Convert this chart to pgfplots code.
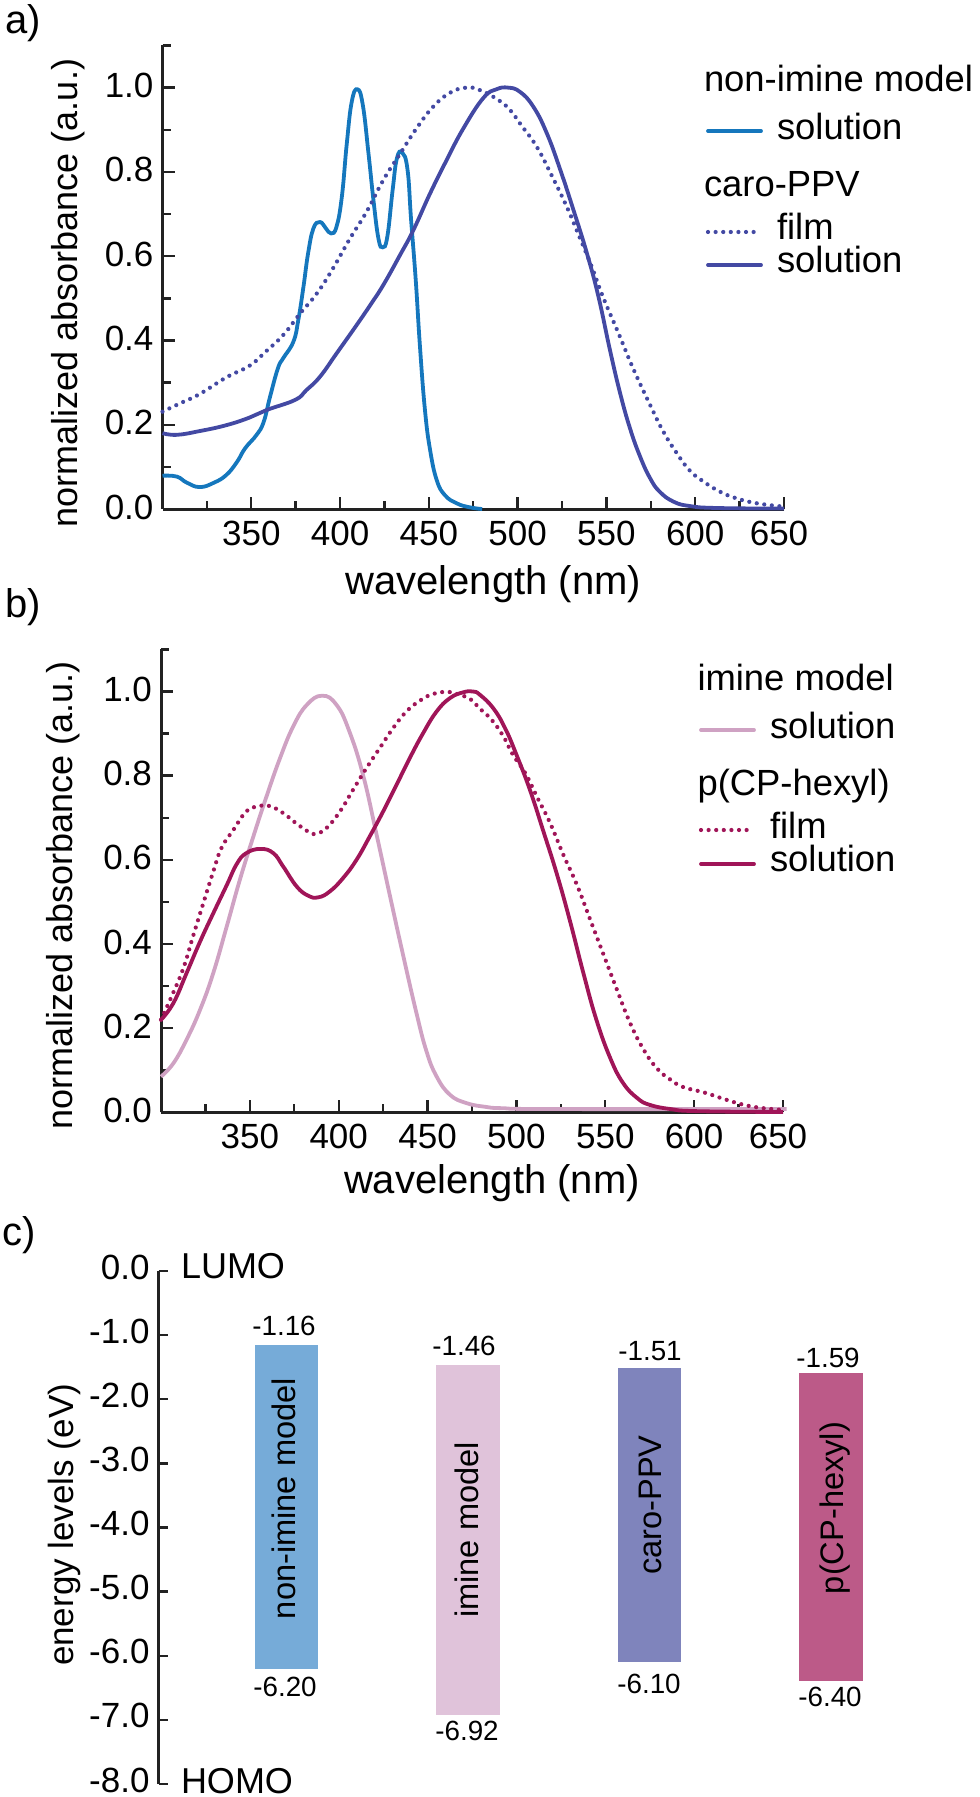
\documentclass[border=0pt]{standalone}
\usepackage{fontspec}
\setmainfont{Liberation Sans}
\usepackage{pgfplots}
\pgfplotsset{compat=1.18}
\usepackage{pgfplotstable}

% scale: 1 reference pixel = 0.5pt
\newcommand{\fs}[1]{\fontsize{#1}{#1}\selectfont}

\definecolor{axiscol}{HTML}{222222}
\definecolor{nonimine}{HTML}{1577BD}
\definecolor{caro}{HTML}{4349A3}
\definecolor{imine}{HTML}{CFA2C3}
\definecolor{hexyl}{HTML}{A01558}
\definecolor{barnon}{HTML}{76ABD8}
\definecolor{barimine}{HTML}{E0C3DA}
\definecolor{barcaro}{HTML}{7F84BC}
\definecolor{barhexyl}{HTML}{BC5A88}

\pgfplotstableread{
nm y
300 0.079
308 0.077
313.7 0.0625
321 0.052
329 0.0625
336 0.081
342 0.112
346.5 0.144
353 0.176
357 0.207
360.6 0.267
365 0.334
368 0.358
373.7 0.397
376.5 0.449
379.4 0.528
382 0.607
385 0.666
388.7 0.681
392 0.666
395 0.654
398 0.67
401 0.741
403.8 0.868
406.6 0.967
409.8 0.996
412.8 0.959
416 0.844
418.8 0.733
421.6 0.642
424 0.621
426.6 0.646
429.6 0.757
432 0.832
435 0.846
438 0.805
440 0.686
442.6 0.544
445 0.385
447.8 0.235
450.7 0.14
454.4 0.069
459 0.033
465.7 0.0135
473 0.004
480 0.0
}\nonimineSol

\pgfplotstableread{
nm y
300 0.231
310 0.251
321 0.273
336 0.3125
349 0.34
358 0.373
368 0.413
377.5 0.464
387 0.512
396 0.571
405.6 0.642
415 0.706
424.4 0.781
433.8 0.843
443 0.903
452.5 0.955
462 0.988
471.3 1.0
478.8 0.994
489 0.971
495.7 0.947
502 0.911
510.7 0.86
519 0.793
527.6 0.718
534 0.654
541.7 0.575
548 0.504
556.8 0.417
565 0.334
574.6 0.247
582 0.184
589.7 0.132
597 0.091
604.7 0.065
614 0.041
623.5 0.025
634.8 0.0135
650 0.0055
}\caroFilm

\pgfplotstableread{
nm y
300 0.18
308 0.176
321 0.185
336 0.199
349 0.217
358.7 0.235
374.7 0.259
381 0.282
388.7 0.314
398 0.369
409.4 0.437
417 0.484
424.4 0.532
433.8 0.603
441.3 0.662
450.7 0.749
460 0.828
469.4 0.903
480.6 0.975
488 0.996
494.7 1.0
501.3 0.99
508.8 0.955
516.4 0.892
524 0.805
531.4 0.71
539 0.607
545.5 0.504
552 0.377
557.7 0.275
563.3 0.191
569 0.124
574.6 0.073
580 0.041
587.8 0.0174
597 0.007
612 0.0024
650 0.001
}\caroSol

\pgfplotstableread{
nm y
300 0.085
307 0.117
314.4 0.173
322 0.244
329.4 0.331
337 0.442
344.4 0.553
352 0.656
359.4 0.751
367 0.842
374.4 0.917
382 0.968
390.7 0.99
398.8 0.968
406 0.905
413.8 0.80
421.3 0.66
428.8 0.515
436 0.378
443.8 0.235
449.4 0.145
455 0.086
462.6 0.042
472 0.022
483 0.013
492 0.01
520 0.008
652 0.008
}\imineSol

\pgfplotstableread{
nm y
300 0.22
306 0.276
312.6 0.343
318 0.418
323.8 0.497
329.4 0.572
334 0.628
340.7 0.671
348 0.715
354.7 0.727
361 0.728
368.8 0.711
376 0.687
383.8 0.665
387.5 0.663
393 0.675
400.7 0.715
408 0.766
415.6 0.818
423 0.865
430.6 0.913
438 0.952
445.6 0.978
453 0.994
461.6 0.999
468 0.992
474 0.982
479.5 0.959
486 0.933
492.7 0.893
498 0.85
505 0.806
511.4 0.751
519 0.687
526.4 0.612
534 0.541
541.6 0.457
549 0.375
556.6 0.291
564 0.212
571.6 0.149
579 0.105
586.6 0.078
594 0.06
605.5 0.0475
616.7 0.032
628 0.018
639 0.01
650 0.006
}\hexylFilm

\pgfplotstableread{
nm y
300 0.22
307 0.26
314.4 0.331
322 0.406
329.4 0.473
337 0.54
342.6 0.59
348 0.616
356 0.626
363.2 0.616
368.8 0.584
376.3 0.537
382.8 0.515
388.5 0.511
395 0.525
402.5 0.557
410 0.6
417.5 0.656
425 0.715
432.5 0.778
440 0.842
447.5 0.901
455 0.952
462.5 0.984
470 0.998
475.6 1.0
479.5 0.992
487 0.96
493.6 0.913
500 0.85
507.7 0.765
515 0.67
522.7 0.567
530 0.457
537.8 0.329
545 0.22
552.8 0.129
560 0.07
568 0.034
575 0.018
586.7 0.008
601.5 0.003
650 0.001
}\hexylSol

\pgfplotsset{
  spectrum/.style={
    scale only axis,
    anchor=south west,
    xmin=300, xmax=650, ymin=0, ymax=1.1,
    clip=false,
    axis x line=bottom, axis y line=left,
    axis line style={-, line width=1.5pt, color=axiscol},
    tick align=inside,
    major tick length=6pt, minor tick length=4pt,
    every tick/.style={line width=1.2pt, color=axiscol},
    xtick={350,400,450,500,550,600,650},
    xticklabels={350,400,450,500,550,600,{650\kern5pt}},
    minor xtick={325,375,425,475,525,575,625},
    ytick={0,0.2,0.4,0.6,0.8,1.0},
    yticklabels={0.0,0.2,0.4,0.6,0.8,1.0},
    minor ytick={0.1,0.3,0.5,0.7,0.9,1.1},
    tick label style={font=\fs{17.5}},
    xticklabel style={anchor=base, yshift=-18pt},
    yticklabel style={anchor=east, xshift=-1pt, yshift=1pt},
    xlabel={wavelength (nm)},
    ylabel={normalized absorbance (a.u.)},
  },
  solid line/.style={line width=1.9pt, smooth, tension=0.75},
  dot line/.style={line width=2.1pt, line cap=round, dash pattern=on 0pt off 3.8pt, smooth, tension=0.75},
}

\begin{document}
\begin{tikzpicture}
\path[use as bounding box] (0,0) rectangle (489.5pt,-898.5pt);

% panel a
\begin{axis}[spectrum,
    at={(81.25pt,-254.5pt)},
    width=310.75pt, height=231.75pt,
    xlabel style={at={(axis description cs:0.532,0)}, anchor=base, yshift=-42.5pt, font=\fs{20}},
    ylabel style={at={(axis description cs:-0.136,0.466)}, anchor=base, font=\fs{18}},
]
\addplot[nonimine, solid line] table[x=nm,y=y] {\nonimineSol};
\addplot[caro, dot line] table[x=nm,y=y] {\caroFilm};
\addplot[caro, solid line] table[x=nm,y=y] {\caroSol};
\end{axis}

% panel b
\begin{axis}[spectrum,
    at={(80.5pt,-556.2pt)},
    width=311pt, height=231.5pt,
    xlabel style={at={(axis description cs:0.532,0)}, anchor=base, yshift=-40.5pt, font=\fs{20}},
    ylabel style={at={(axis description cs:-0.143,0.4695)}, anchor=base, font=\fs{18}},
]
\addplot[imine, solid line] table[x=nm,y=y] {\imineSol};
\addplot[hexyl, dot line] table[x=nm,y=y] {\hexylFilm};
\addplot[hexyl, solid line] table[x=nm,y=y] {\hexylSol};
\end{axis}

% panel c, bars centred on 1..4
\begin{axis}[
    scale only axis,
    anchor=south west,
    at={(79.3pt,-892pt)},
    width=381.5pt, height=256.5pt,
    xmin=0.295, xmax=4.5, ymin=-8, ymax=0,
    clip=false,
    axis x line=none, axis y line=left,
    axis line style={-, line width=1.5pt, color=axiscol},
    tick align=inside,
    major tick length=4.5pt,
    every tick/.style={line width=1.2pt, color=axiscol},
    ytick={0,-1,-2,-3,-4,-5,-6,-7,-8},
    yticklabels={0.0,-1.0,-2.0,-3.0,-4.0,-5.0,-6.0,-7.0,-8.0},
    tick label style={font=\fs{17.5}},
    yticklabel style={anchor=east, xshift=-1pt, yshift=2pt},
    ylabel={energy levels (eV)},
    ylabel style={at={(axis description cs:-0.1114,0.505)}, anchor=base, font=\fs{17.5}},
]
\addplot[fill=barnon, draw=none] coordinates {(0.825,-1.16) (1.175,-1.16) (1.175,-6.20) (0.825,-6.20)} -- cycle;
\addplot[fill=barimine, draw=none] coordinates {(1.825,-1.46) (2.175,-1.46) (2.175,-6.92) (1.825,-6.92)} -- cycle;
\addplot[fill=barcaro, draw=none] coordinates {(2.825,-1.51) (3.175,-1.51) (3.175,-6.10) (2.825,-6.10)} -- cycle;
\addplot[fill=barhexyl, draw=none] coordinates {(3.825,-1.59) (4.175,-1.59) (4.175,-6.40) (3.825,-6.40)} -- cycle;
\end{axis}

% texts and legend keys, in reference pixels
\begin{scope}[x=0.5pt, y=-0.5pt, every node/.style={inner sep=0pt, outer sep=0pt}]
\node[anchor=base west, font=\fs{20}] at (5,34) {a)};
\node[anchor=base west, font=\fs{20}] at (5,617) {b)};
\node[anchor=base west, font=\fs{20}] at (3,1245) {c)};

% legend a
\begin{scope}[every node/.append style={anchor=base west, font=\fs{18.2}}]
\node at (704,92) {non-imine model};
\node at (777,140) {solution};
\node at (704,197) {caro-PPV};
\node at (777,240) {film};
\node at (777,273) {solution};
\end{scope}
\draw[nonimine, line width=1.9pt, line cap=round] (708,131) -- (761,131);
\draw[caro, line width=2.1pt, line cap=round, dash pattern=on 0pt off 3.8pt] (708,232) -- (758,232);
\draw[caro, line width=1.9pt, line cap=round] (708,265) -- (761,265);

% legend b
\begin{scope}[every node/.append style={anchor=base west, font=\fs{18.2}}]
\node at (697.5,690) {imine model};
\node at (770,738.5) {solution};
\node at (697.5,795) {p(CP-hexyl)};
\node at (770,838) {film};
\node at (770,871.7) {solution};
\end{scope}
\draw[imine, line width=1.9pt, line cap=round] (701,730) -- (754,730);
\draw[hexyl, line width=2.1pt, line cap=round, dash pattern=on 0pt off 3.8pt] (701,830) -- (751,830);
\draw[hexyl, line width=1.9pt, line cap=round] (701,864) -- (754,864);

% panel c labels
\node[anchor=base west, font=\fs{18}] at (181,1278.5) {LUMO};
\node[anchor=base west, font=\fs{18}] at (181,1793) {HOMO};
\begin{scope}[every node/.append style={anchor=base, rotate=90, font=\fs{16.3}}]
\node at (295,1498.5) {non-imine model};
\node at (478,1530) {imine model};
\node at (661,1505) {caro-PPV};
\node at (843,1508) {p(CP-hexyl)};
\end{scope}
\begin{scope}[every node/.append style={anchor=base, font=\fs{13.9}}]
\node at (284,1335) {-1.16};
\node at (464,1355) {-1.46};
\node at (650,1360) {-1.51};
\node at (828,1367) {-1.59};
\node at (285,1696) {-6.20};
\node at (467,1740) {-6.92};
\node at (649,1693) {-6.10};
\node at (830,1706) {-6.40};
\end{scope}
\end{scope}
\end{tikzpicture}
\end{document}
